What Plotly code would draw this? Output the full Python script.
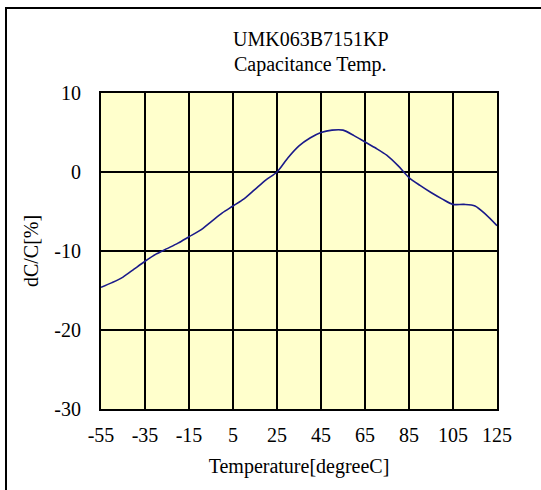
import plotly.graph_objects as go

# Data
temperature = [-55, -50, -45, -40, -35, -30, -25, -20, -15, -10, -5, 0, 5, 10, 15, 20,
               25, 30, 35, 40, 45, 50, 55, 60, 65, 70, 75, 80, 85, 90, 95, 100, 105,
               110, 115, 120, 125]
dc_over_c = [-14.6, -14.0, -13.3, -12.3, -11.3, -10.4, -9.7, -9.0, -8.2, -7.4, -6.3,
             -5.2, -4.3, -3.4, -2.2, -1.0, 0.0, 1.8, 3.3, 4.3, 5.0, 5.3, 5.3, 4.6,
             3.8, 3.0, 2.1, 0.8, -0.7, -1.7, -2.6, -3.4, -4.1, -4.1, -4.3, -5.4, -6.8]
x_ticks = [-55, -35, -15, 5, 25, 45, 65, 85, 105, 125]
x_tick_labels = ["-55", "-35", "-15", "5", "25", "45", "65", "85", "105", "125"]
y_ticks = [-30, -20, -10, 0, 10]
y_tick_labels = ["-30", "-20", "-10", "0", "10"]
title_lines = ["UMK063B7151KP", "Capacitance Temp."]
x_title = "Temperature[degreeC]"
y_title = "dC/C[%]"

FONT = "Liberation Serif, Times New Roman, serif"

fig = go.Figure()
fig.add_trace(go.Scatter(
    x=temperature, y=dc_over_c, mode="lines",
    line=dict(color="#1a1a8a", width=1.6, shape="spline", smoothing=0.8),
    showlegend=False, hoverinfo="x+y",
))

axis_common = dict(
    showgrid=True, gridcolor="black", gridwidth=2,
    showline=True, linecolor="black", linewidth=2, mirror=True,
    zeroline=False,
    ticks="outside", tickcolor="rgba(0,0,0,0)",
    tickfont=dict(family=FONT, size=20, color="black"),
)

fig.update_layout(
    width=541, height=490,
    margin=dict(l=101, r=44, t=93, b=81),
    paper_bgcolor="white", plot_bgcolor="#FFFFCC",
    font=dict(family=FONT, color="black"),
    xaxis=dict(range=[-55, 125], tickvals=x_ticks, ticktext=x_tick_labels, ticklen=7,
               title=dict(text=x_title, font=dict(family=FONT, size=20), standoff=14),
               **axis_common),
    yaxis=dict(range=[-30, 10], tickvals=y_ticks, ticktext=y_tick_labels, ticklen=14,
               title=dict(text=y_title, font=dict(family=FONT, size=20), standoff=10),
               **axis_common),
)

fig.add_annotation(text=title_lines[0], xref="paper", yref="paper",
                   x=0.53, y=1.171, xanchor="center", yanchor="middle",
                   showarrow=False, font=dict(family=FONT, size=20, color="black"))
fig.add_annotation(text=title_lines[1], xref="paper", yref="paper",
                   x=0.53, y=1.089, xanchor="center", yanchor="middle",
                   showarrow=False, font=dict(family=FONT, size=20, color="black"))

# outer frame (only top and left edges fall inside the picture)
fig.add_shape(type="rect", xref="paper", yref="paper",
              x0=-0.2399, x1=1.2, y0=-0.35, y1=1.269,
              line=dict(color="black", width=2), layer="above")

fig.write_html("out.html", config={"displayModeBar": False},
               post_script="document.body.style.margin='0';")
